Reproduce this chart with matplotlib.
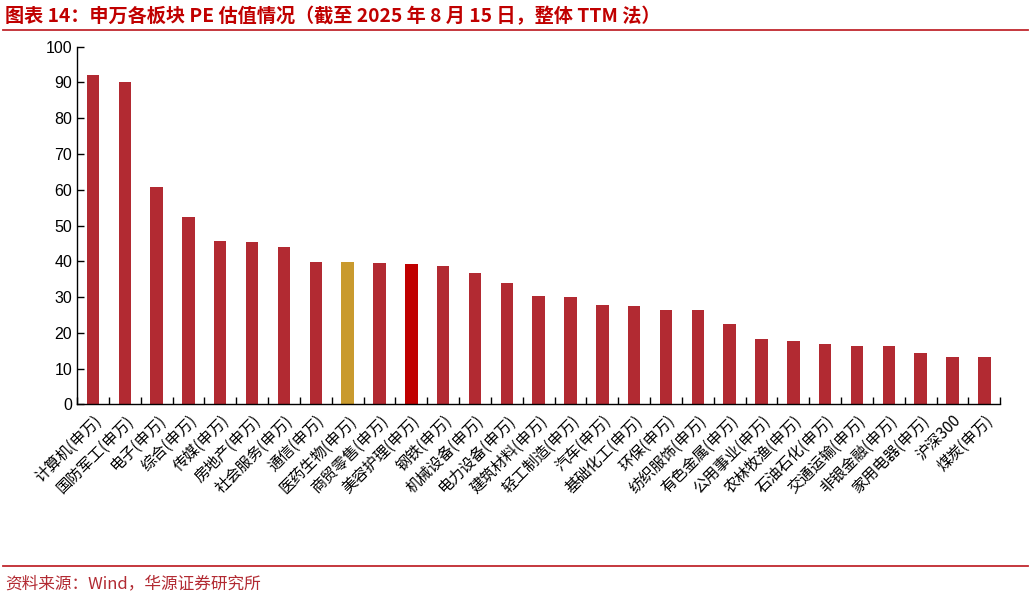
import matplotlib
matplotlib.use('Agg')
from matplotlib import pyplot as plt
from matplotlib.lines import Line2D
import numpy as np

plt.rcParams['font.family'] = ['Noto Sans CJK SC', 'DejaVu Sans']

sectors = ['计算机(申万)', '国防军工(申万)', '电子(申万)', '综合(申万)', '传媒(申万)', '房地产(申万)',
           '社会服务(申万)', '通信(申万)', '医药生物(申万)', '商贸零售(申万)', '美容护理(申万)', '钢铁(申万)',
           '机械设备(申万)', '电力设备(申万)', '建筑材料(申万)', '轻工制造(申万)', '汽车(申万)',
           '基础化工(申万)', '环保(申万)', '纺织服饰(申万)', '有色金属(申万)', '公用事业(申万)',
           '农林牧渔(申万)', '石油石化(申万)', '交通运输(申万)', '非银金融(申万)', '家用电器(申万)',
           '沪深300', '煤炭(申万)']
pe_ttm = [92.0, 90.1, 60.9, 52.5, 45.8, 45.4, 44.0, 39.9, 39.9, 39.4, 39.2, 38.7,
          36.6, 33.8, 30.2, 29.9, 27.9, 27.5, 26.5, 26.4, 22.4, 18.4, 17.7, 16.8,
          16.4, 16.2, 14.3, 13.2, 13.1]
highlight = {'医药生物(申万)': '#C99A2E', '美容护理(申万)': '#C00000'}

red = '#B22A32'
colors = [highlight.get(s, red) for s in sectors]

fig = plt.figure(figsize=(10.31, 5.99), dpi=100)
ax = fig.add_axes([0.0747, 0.325, 0.8955, 0.597])

x = np.arange(len(sectors))
ax.bar(x, pe_ttm, width=0.39, color=colors, zorder=2)

ax.set_xlim(-0.5, len(sectors) - 0.5)
ax.set_ylim(0, 100)
ax.set_yticks(np.arange(0, 101, 10))
ax.tick_params(axis='y', direction='in', length=5, labelsize=11.5, width=1)
for lab in ax.get_yticklabels():
    lab.set_family(['Liberation Sans', 'DejaVu Sans'])

# category boundary ticks on the x axis
ax.set_xticks(np.arange(len(sectors) + 1) - 0.5, minor=True)
ax.tick_params(axis='x', which='minor', direction='in', length=5, width=1)
ax.set_xticks(x)
ax.set_xticklabels(sectors, rotation=45, ha='right', rotation_mode='anchor', fontsize=11)
ax.tick_params(axis='x', which='major', length=0, pad=6)

ax.spines['top'].set_visible(False)
ax.spines['right'].set_visible(False)
ax.spines['left'].set_linewidth(1)
ax.spines['bottom'].set_linewidth(1)

fig.text(0.005, 0.973, '图表 14：申万各板块 PE 估值情况（截至 2025 年 8 月 15 日，整体 TTM 法）',
         color='#C00000', fontsize=13.8, fontweight='bold', va='center', ha='left')
fig.add_artist(Line2D([0.003, 0.997], [0.95, 0.95], color='#C0282E', lw=1.3, transform=fig.transFigure))
fig.add_artist(Line2D([0.003, 0.997], [0.055, 0.055], color='#C0282E', lw=1.3, transform=fig.transFigure))
fig.text(0.005, 0.026, '资料来源：Wind，华源证券研究所', color='#B22A32', fontsize=12,
         va='center', ha='left')

fig.savefig('out.png', dpi=100)
